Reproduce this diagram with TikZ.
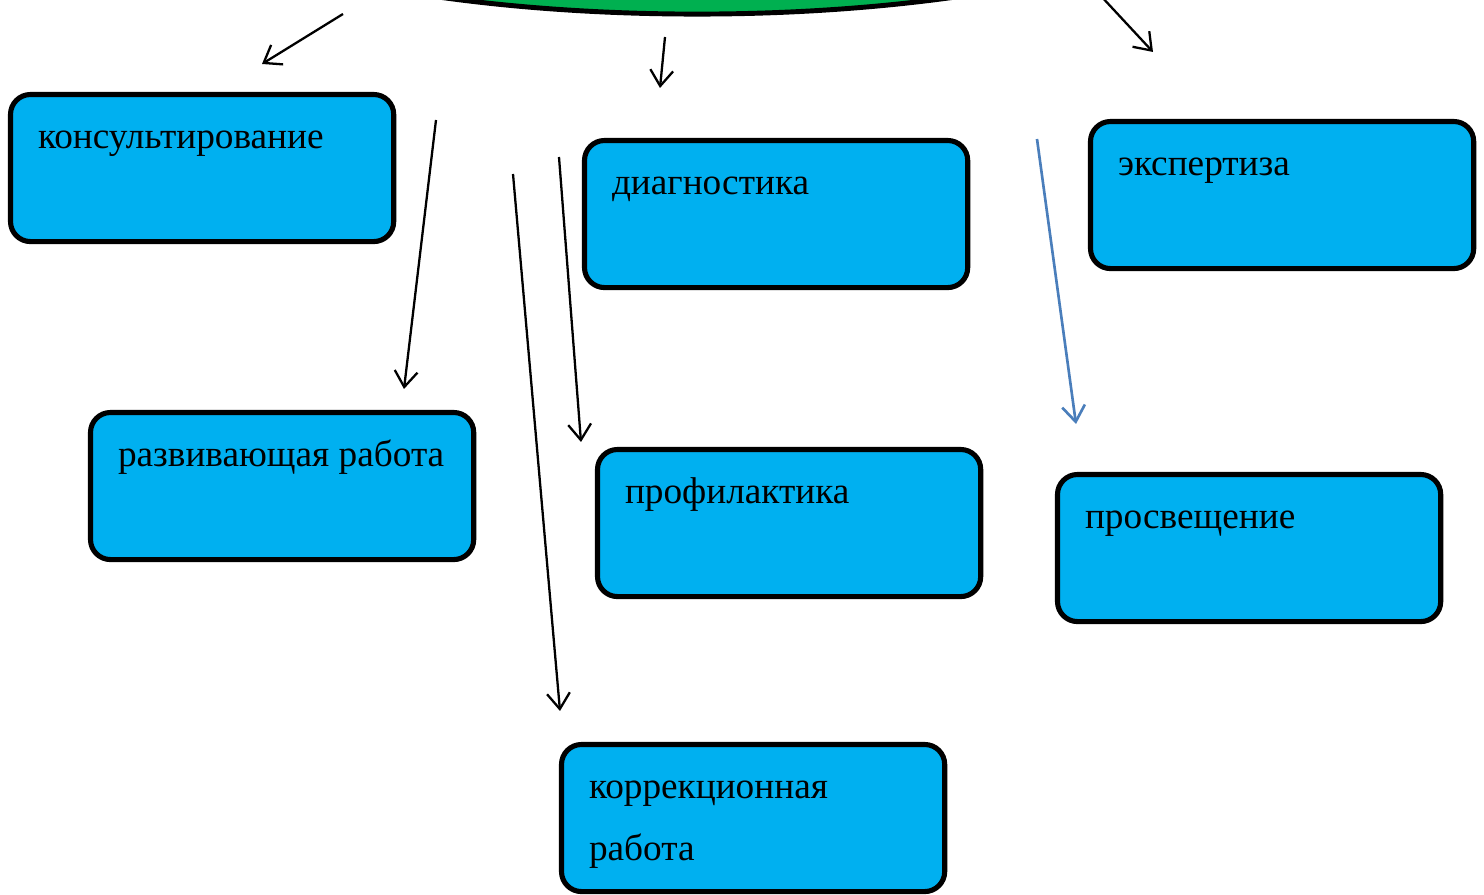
\documentclass[tikz,border=0pt]{standalone}
\usepackage{fontspec}
\setmainfont{Liberation Serif}
\usetikzlibrary{arrows.meta,shapes.geometric}
\definecolor{boxblue}{HTML}{00B0F0}
\definecolor{ovalgreen}{HTML}{00B050}
\definecolor{linkblue}{HTML}{4A7EBB}
\tikzset{
  workbox/.style={draw, line width=1.45pt, fill=boxblue, rounded corners=0.2cm,
    anchor=north west, outer sep=0pt, inner xsep=0.275cm, inner ysep=0pt,
    text width=3.28cm, align=flush left,
    text height=0.535cm, text depth=0.935cm,
    font=\fontsize{10.6}{17.9}\selectfont},
  oval/.style={ellipse, draw, line width=1.4pt, fill=ovalgreen, outer sep=0pt},
}
\begin{document}
\begin{tikzpicture}[>={Straight Barb[length=4.5pt,width=6.5pt]}, x=0.01cm, y=-0.01cm, line width=0.65pt]
\clip (0,0) rectangle (1484,895);
\node[oval, minimum width=11.62cm, minimum height=3.28cm] (top) at (697,-150) {};
% boxes
\foreach \name/\x/\y/\txt in {cons/10.5/94.5/консультирование, diag/584.5/140.5/диагностика,
  expert/1090.5/121.5/экспертиза, razv/90.5/412.5/развивающая работа,
  prof/597.5/449.5/профилактика, prosv/1057.5/474.5/просвещение,
  korr/561.5/744.5/{коррекционная\\работа}}
{
    \node[workbox] (\name) at (\x,\y) {\txt};
}
% arrows
\coordinate (t1) at (343,14);  \coordinate (h1) at (262,64);
\coordinate (t2) at (665,37);  \coordinate (h2) at (660,88);
\coordinate (t3) at (1100,-5); \coordinate (h3) at (1153,52);
\coordinate (t4) at (436,120); \coordinate (h4) at (404,389);
\coordinate (t5) at (513,174); \coordinate (h5) at (560,711);
\coordinate (t6) at (559,157); \coordinate (h6) at (581,442);
\coordinate (t7) at (1037,139); \coordinate (h7) at (1076,424);
\foreach \i in {1,...,6}
{
    \draw[->] (t\i)--(h\i);
}
\draw[->, linkblue, line width=0.75pt] (t7)--(h7);
\end{tikzpicture}
\end{document}
